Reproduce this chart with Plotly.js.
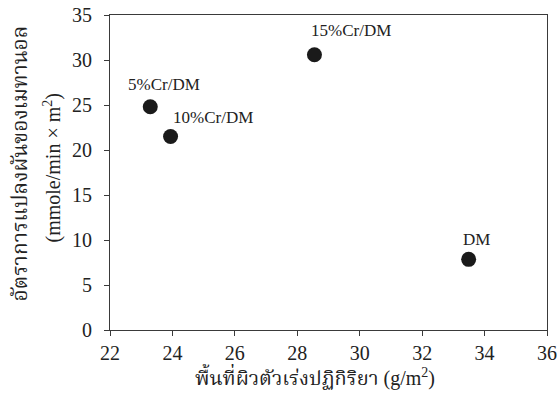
<!DOCTYPE html>
<html>
<head>
<meta charset="utf-8">
<script src="https://cdn.plot.ly/plotly-3.0.1.min.js"></script>
<style>html,body{margin:0;padding:0;background:#fff;}#chart{width:557px;height:397px;}</style>
</head>
<body>
<div id="chart"></div>
<script>
const catalysts = ["DM", "5%Cr/DM", "10%Cr/DM", "15%Cr/DM"];
const surfaceArea = [33.49, 23.29, 23.94, 28.55];
const conversionRate = [7.85, 24.8, 21.5, 30.58];
const xTicks = [22, 24, 26, 28, 30, 32, 34, 36];
const yTicks = [0, 5, 10, 15, 20, 25, 30, 35];
const xTitleThai = "พื้นที่ผิวตัวเร่งปฏิกิริยา";
const yTitleThai = "อัตราการแปลงผันของเมทานอล";
const yTitleUnit = "(mmole/min × m<sup>2</sup>)";

// label offsets (pixels), styling only
const labelShift = [[8, 20], [14, 22], [42, 19], [37, 24]];

const FONT = "Liberation Serif";
const THAI = "font-family:Norasi,Kinnari,Noto Serif Thai,Noto Sans Thai,Liberation Serif;";
const axisColor = "#3a3a3a";
const txt = '#222';

const annotations = catalysts.map((c, i) => ({
  x: surfaceArea[i], y: conversionRate[i], xref: 'x', yref: 'y',
  text: c, showarrow: false,
  xshift: labelShift[i][0], yshift: labelShift[i][1],
  font: {family: FONT, size: 17, color: txt}
}));
annotations.push({
  xref: 'paper', yref: 'paper', x: 0.5, y: 0, xanchor: 'center', yanchor: 'top',
  xshift: -14, yshift: -31, showarrow: false,
  text: '<span style="' + THAI + 'font-size:20px">' + xTitleThai + '</span> (g/m<sup>2</sup>)',
  font: {family: FONT, size: 20, color: txt}
});
annotations.push({
  xref: 'paper', yref: 'paper', x: 0, y: 0.5, xanchor: 'center', yanchor: 'middle',
  xshift: -89, yshift: 9, textangle: -90, showarrow: false,
  text: '<span style="' + THAI + '">' + yTitleThai + '</span>',
  font: {family: FONT, size: 21, color: txt}
});
annotations.push({
  xref: 'paper', yref: 'paper', x: 0, y: 0.5, xanchor: 'center', yanchor: 'middle',
  xshift: -58, yshift: 4, textangle: -90, showarrow: false,
  text: yTitleUnit,
  font: {family: FONT, size: 20, color: txt}
});

Plotly.newPlot('chart', [{
  type: 'scatter', mode: 'markers',
  x: surfaceArea, y: conversionRate,
  marker: {size: 15, color: '#1a1a1a'},
  hoverinfo: 'skip'
}], {
  width: 557, height: 397,
  margin: {l: 110, r: 10, t: 15, b: 67},
  paper_bgcolor: '#fff', plot_bgcolor: '#fff',
  showlegend: false,
  font: {family: FONT, color: txt, size: 20},
  xaxis: {
    range: [22, 36], tickvals: xTicks, ticktext: xTicks.map(String),
    showgrid: false, zeroline: false, showline: true, mirror: true,
    linecolor: axisColor, linewidth: 1, ticks: 'outside', ticklen: 5, tickcolor: axisColor,
    tickfont: {family: FONT, size: 20, color: txt}
  },
  yaxis: {
    range: [0, 35], tickvals: yTicks, ticktext: yTicks.map(String),
    showgrid: false, zeroline: false, showline: true, mirror: true,
    linecolor: axisColor, linewidth: 1, ticks: 'outside', ticklen: 5, tickcolor: axisColor,
    ticklabelstandoff: 8,
    tickfont: {family: FONT, size: 20, color: txt}
  },
  annotations: annotations
}, {staticPlot: true, displayModeBar: false});
</script>
</body>
</html>
